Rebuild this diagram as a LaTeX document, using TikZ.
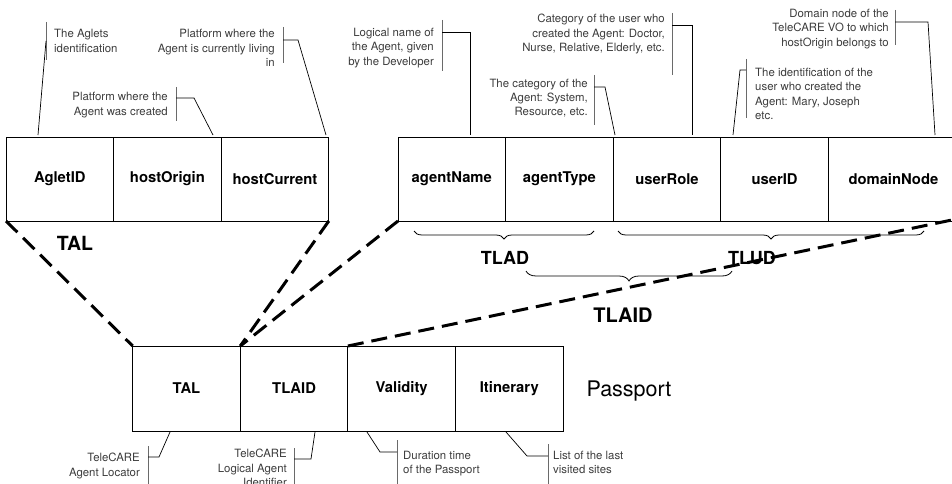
\documentclass[tikz,border=0pt]{standalone}
\usepackage{fontspec}
\setmainfont{TeX Gyre Heros}
\usetikzlibrary{decorations.pathreplacing}
\definecolor{notegray}{HTML}{3C3C3C}
\definecolor{bargray}{HTML}{6A6A6A}
\tikzset{
  field/.style={draw, line width=1pt, minimum width=107.6pt, minimum height=84pt, inner sep=0pt, outer sep=0pt, font=\fontsize{14.8}{17}\selectfont\bfseries},
  link/.style={line width=3pt, dash pattern=on 16pt off 8pt},
  note/.style={text=notegray, font=\fontsize{11.4}{14.3}\selectfont, inner sep=0pt},
  notebar/.style={draw=bargray, line width=1pt},
  leader/.style={line width=0.7pt},
  grp/.style={font=\fontsize{18}{20}\selectfont\bfseries, inner sep=0pt},
  brc/.style={decorate, decoration={brace, mirror, amplitude=8pt}, line width=0.8pt},
}
\begin{document}
\begin{tikzpicture}[x=1pt,y=-1pt]
\useasboundingbox (0,0) rectangle (952,484);
\clip (0,0) rectangle (952,484);

% TAL fields
\node[field] (aid) at (59.8,179) {AgletID};
\node[field] (hor) at (167.4,179) {hostOrigin};
\node[field] (hcu) at (275,179) {hostCurrent};
\node[grp, font=\fontsize{19.5}{22}\selectfont\bfseries] (taltitle) at (75,243) {TAL};

% TLAID fields
\node[field] (ana) at (451.8,179) {agentName};
\node[field] (aty) at (559.4,179) {agentType};
\node[field] (uro) at (667,179) {userRole};
\node[field] (uid) at (774.6,179) {userID};
\node[field, minimum width=130pt] (dom) at (893.4,179) {domainNode};

% Passport fields
\node[field, minimum height=85pt] (ptal) at (186.5,388.5) {TAL};
\node[field, minimum height=85pt] (ptlaid) at (294.1,388.5) {TLAID};
\node[field, minimum height=85pt] (pval) at (401.7,388.5) {Validity};
\node[field, minimum height=85pt] (pitin) at (509.3,388.5) {Itinerary};
\node[font=\fontsize{21.5}{24}\selectfont, inner sep=0pt] (passport) at (629,391) {Passport};

% braces
\coordinate (tladA) at (414,231);
\coordinate (tladB) at (594,231);
\coordinate (tludA) at (618,231);
\coordinate (tludB) at (924,231);
\coordinate (tlaidA) at (526,271);
\coordinate (tlaidB) at (732,271);
\draw[brc] (tladA) -- (tladB);
\draw[brc] (tludA) -- (tludB);
\draw[brc, decoration={amplitude=10pt}] (tlaidA) -- (tlaidB);
\node[grp] (tlad) at (505,257.5) {TLAD};
\node[grp] (tlud) at (752,258) {TLUD};
\node[grp, font=\fontsize{20}{22}\selectfont\bfseries] (tlaid) at (623,315.5) {TLAID};

% dashed links
\coordinate (rend) at (960,218.3);
\draw[link] (aid.south west) -- (ptal.north west);
\draw[link] (hcu.south east) -- (ptal.north east);
\draw[link] (ana.south west) -- (ptal.north east);
\draw[link] (pval.north west) -- (rend);

% callouts, top
\node[note, anchor=west, align=left] (n1) at (54,41) {The Aglets\\identification};
\draw[notebar] (46,22) -- (46,60);
\draw[leader] (46,41) -- (38,135);

\node[note, anchor=east, align=right] (n2) at (168,105) {Platform where the\\Agent was created};
\draw[notebar] (176,87) -- (176,121);
\draw[leader] (176,98) -- (194,98) -- (213,135);

\node[note, anchor=east, align=right] (n3) at (275,48) {Platform where the\\Agent is currently living\\in};
\draw[notebar] (283,27) -- (283,63);
\draw[leader] (283,40) -- (298,40) -- (326,135);

\node[note, anchor=east, align=right] (n4) at (434,48) {Logical name of\\the Agent, given\\by the Developer};
\draw[notebar] (442,20) -- (442,71);
\draw[leader] (442,32) -- (470,32) -- (470,135);

\node[note, anchor=east, align=right] (n5) at (588,98) {The category of the\\Agent: System,\\Resource, etc.};
\draw[notebar] (594,75) -- (594,125);
\draw[leader] (594,87) -- (605,87) -- (615,135);

\node[note, anchor=east, align=right] (n6) at (665,34) {Category of the user who\\created the Agent: Doctor,\\Nurse, Relative, Elderly, etc.};
\draw[notebar] (672,13) -- (672,75);
\draw[leader] (672,25) -- (692,25) -- (692,135);

\node[note, anchor=west, align=left] (n7) at (755,94) {The identification of the\\user who created the\\Agent: Mary, Joseph\\etc.};
\draw[notebar] (746,59) -- (746,118);
\draw[leader] (746,70) -- (740,70) -- (733,135);

\node[note, anchor=east, align=right] (n8) at (889,29) {Domain node of the\\TeleCARE VO to which\\hostOrigin belongs to};
\draw[notebar] (895,10) -- (895,45);
\draw[leader] (895,22) -- (928,22) -- (935,135);

% callouts, bottom
\node[note, anchor=north east, align=right] (n9) at (140,453) {TeleCARE\\Agent Locator};
\draw[notebar] (148,446) -- (148,490);
\draw[leader] (148,457) -- (159,457) -- (170,432);

\node[note, anchor=north east, align=right] (n10) at (287,449) {TeleCARE\\Logical Agent\\Identifier};
\draw[notebar] (294,448) -- (294,490);
\draw[leader] (294,459) -- (311,459) -- (315,432);

\node[note, anchor=north west, align=left] (n11) at (403,451) {Duration time\\of the Passport};
\draw[notebar] (397,440) -- (397,490);
\draw[leader] (397,452) -- (380,452) -- (367,432);

\node[note, anchor=north west, align=left] (n12) at (553,451) {List of the last\\visited sites};
\draw[notebar] (548,444) -- (548,490);
\draw[leader] (548,456) -- (527,456) -- (506,432);
\end{tikzpicture}
\end{document}
